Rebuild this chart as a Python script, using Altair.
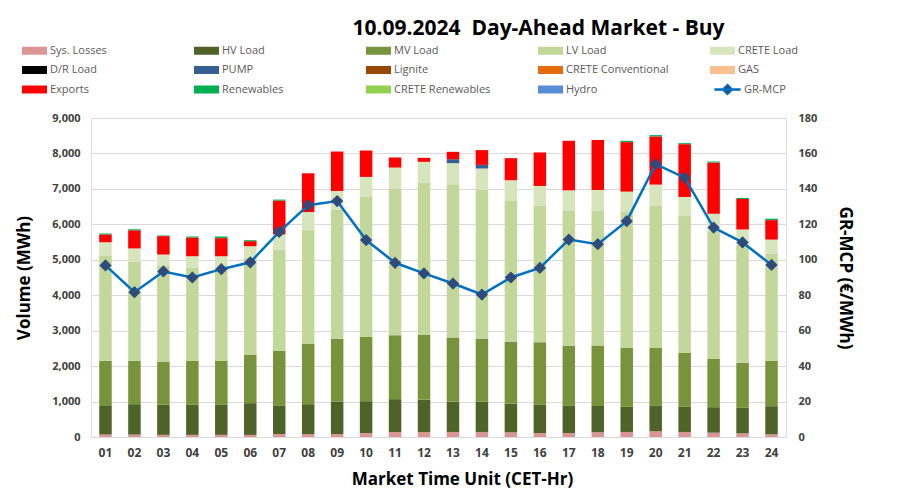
import altair as alt
import pandas as pd

hours = ["01", "02", "03", "04", "05", "06", "07", "08", "09", "10", "11", "12",
         "13", "14", "15", "16", "17", "18", "19", "20", "21", "22", "23", "24"]

series = ["Sys. Losses", "HV Load", "MV Load", "LV Load", "CRETE Load",
          "D/R Load", "PUMP", "Lignite", "CRETE Conventional", "GAS",
          "Exports", "Renewables", "CRETE Renewables", "Hydro"]
colors = ["#DA9694", "#4F6228", "#77933C", "#C4D79B", "#D8E4BC",
          "#000000", "#366092", "#974706", "#E46C0A", "#FAC090",
          "#FF0000", "#00B050", "#92D050", "#558ED5"]

sys_losses = [68, 68, 60, 60, 60, 60, 85, 85, 85, 113, 140, 140,
              142, 142, 132, 113, 113, 132, 142, 161, 142, 122, 103, 76]
hv_load = [810, 858, 857, 847, 847, 895, 793, 841, 918, 898, 928, 908,
           850, 850, 813, 794, 765, 746, 708, 717, 708, 719, 719, 793]
mv_load = [1275, 1227, 1199, 1237, 1237, 1359, 1550, 1700, 1773, 1813, 1805, 1832,
           1813, 1784, 1746, 1767, 1700, 1700, 1671, 1634, 1521, 1360, 1274, 1275]
lv_load = [2957, 2797, 2714, 2627, 2636, 2736, 2861, 3230, 3627, 3948, 4144, 4298,
           4325, 4193, 3967, 3842, 3797, 3797, 3825, 4004, 3862, 3618, 3324, 3016]
crete_load = [387, 370, 318, 329, 320, 333, 425, 490, 537, 566, 585, 585,
              595, 606, 586, 567, 585, 594, 577, 605, 539, 480, 435, 410]
dr_load = [0, 0, 0, 0, 0, 0, 0, 0, 0, 0, 0, 0, 0, 0, 0, 0, 0, 0, 0, 0, 0, 0, 0, 0]
pump = [0, 0, 0, 0, 0, 0, 0, 0, 0, 0, 0, 0, 113, 103, 0, 0, 0, 0, 0, 0, 0, 0, 0, 0]
lignite = [0, 0, 0, 0, 0, 0, 0, 0, 0, 0, 0, 0, 0, 0, 0, 0, 0, 0, 0, 0, 0, 0, 0, 0]
crete_conv = [0, 0, 0, 0, 0, 0, 0, 0, 0, 0, 0, 0, 0, 0, 0, 0, 0, 0, 0, 0, 0, 0, 0, 0]
gas = [0, 0, 0, 0, 0, 0, 0, 0, 0, 0, 0, 0, 0, 0, 0, 0, 0, 0, 0, 0, 0, 0, 0, 0]
exports = [215, 512, 519, 529, 510, 142, 957, 1094, 1114, 745, 284, 113,
           207, 416, 623, 945, 1397, 1408, 1397, 1359, 1489, 1445, 859, 549]
renewables = [28, 28, 19, 28, 47, 28, 28, 0, 0, 0, 0, 0,
              0, 0, 0, 0, 0, 0, 37, 38, 30, 28, 31, 40]
crete_ren = [0, 0, 0, 0, 0, 0, 0, 0, 0, 0, 0, 0, 0, 0, 0, 0, 0, 0, 0, 0, 0, 0, 0, 0]
hydro = [0, 0, 0, 0, 0, 0, 0, 0, 0, 0, 0, 0, 0, 0, 0, 0, 0, 0, 0, 0, 0, 0, 0, 0]

gr_mcp = [96.8, 81.7, 93.4, 90.0, 94.7, 98.6, 115.8, 130.8, 133.1, 111.1, 98.3, 92.3,
          86.6, 80.4, 90.0, 95.4, 111.4, 108.8, 121.8, 154.0, 146.3, 118.2, 109.8, 97.1]

values = [sys_losses, hv_load, mv_load, lv_load, crete_load, dr_load, pump, lignite,
          crete_conv, gas, exports, renewables, crete_ren, hydro]

rows = []
for i, (name, vals) in enumerate(zip(series, values)):
    for h, v in zip(hours, vals):
        rows.append({"hour": h, "series": name, "idx": i, "value": v})
df = pd.DataFrame(rows)
dfl = pd.DataFrame({"hour": hours, "mcp": gr_mcp, "series": ["GR-MCP"] * len(hours)})

FONT = "Open Sans"
LBL = "#404040"

x_enc = alt.X("hour:O", sort=hours,
              scale=alt.Scale(paddingInner=0, paddingOuter=0),
              axis=alt.Axis(title="Market Time Unit (CET-Hr)", labelAngle=0, ticks=False,
                            domain=False, labelPadding=10, labelFontSize=12,
                            labelFontWeight="bold", labelColor=LBL, labelFont=FONT,
                            titleFont=FONT, titleFontSize=17, titleFontWeight="bold",
                            titleColor="black", titlePadding=13, titleX=371))

bars = alt.Chart(df).mark_bar(size=12.5).encode(
    x=x_enc,
    y=alt.Y("value:Q", stack="zero",
            scale=alt.Scale(domain=[0, 9000], nice=False),
            axis=alt.Axis(title="Volume (MWh)", values=list(range(0, 9001, 1000)), format=",.0f",
                          ticks=False, domain=False, grid=True, gridColor="#D9D9D9",
                          labelPadding=11, labelFontSize=11, labelFontWeight="bold",
                          labelColor=LBL, labelFont=FONT, titleFont=FONT, titleFontSize=17,
                          titleFontWeight="bold", titleColor="black", titlePadding=18)),
    color=alt.Color("series:N", scale=alt.Scale(domain=series, range=colors),
                    legend=alt.Legend(title=None, orient="none", legendX=-69, legendY=-80,
                                      direction="horizontal", columns=5, gridAlign="all",
                                      columnPadding=41, rowPadding=1.5,
                                      symbolType="M-1,-0.32H1V0.32H-1Z", symbolSize=625,
                                      symbolStrokeWidth=0, symbolOpacity=1,
                                      labelFont=FONT, labelFontSize=11, labelColor="#595959",
                                      labelOffset=3, labelLimit=250)),
    order=alt.Order("idx:Q", sort="ascending"),
)

y_right = alt.Y("mcp:Q", scale=alt.Scale(domain=[0, 180], nice=False),
                axis=alt.Axis(title="GR-MCP (€/MWh)", orient="right",
                              values=list(range(0, 181, 20)), ticks=False, domain=False,
                              grid=False, labelPadding=12, labelFontSize=11,
                              labelFontWeight="bold", labelColor=LBL, labelFont=FONT,
                              titleFont=FONT, titleFontSize=17, titleFontWeight="bold",
                              titleColor="black", titlePadding=19))

line = alt.Chart(dfl).mark_line(color="#0070C0", strokeWidth=2.5).encode(x=x_enc, y=y_right)
pts = alt.Chart(dfl).mark_point(shape="diamond", filled=True, size=150, opacity=1).encode(
    x=x_enc, y=y_right,
    color=alt.Color("series:N", scale=alt.Scale(domain=["GR-MCP"], range=["#2F4B7C"]),
                    legend=alt.Legend(title=None, orient="none", legendX=623, legendY=-42,
                                      symbolType="M-1,-0.05H1V0.05H-1Z M0,-0.42L0.42,0L0,0.42L-0.42,0Z",
                                      symbolSize=625, symbolStrokeColor="#0070C0",
                                      symbolStrokeWidth=1.2, symbolOpacity=1,
                                      labelFont=FONT, labelFontSize=11, labelColor="#595959",
                                      labelOffset=3)),
)

chart = alt.layer(bars, alt.layer(line, pts)).resolve_scale(
    y="independent", color="independent"
).properties(
    width=695, height=319,
    padding={"left": 83, "top": 110, "right": 110, "bottom": 55},
    autosize="none",
    title=alt.Title("10.09.2024\u00a0 Day-Ahead Market - Buy", font=FONT, fontSize=21,
                    fontWeight="bold", color="black", anchor="middle", dx=100, dy=3, offset=2),
).configure_view(stroke=None).configure(background="white")

chart.save("out.html", embed_options={"renderer": "svg", "actions": False})
